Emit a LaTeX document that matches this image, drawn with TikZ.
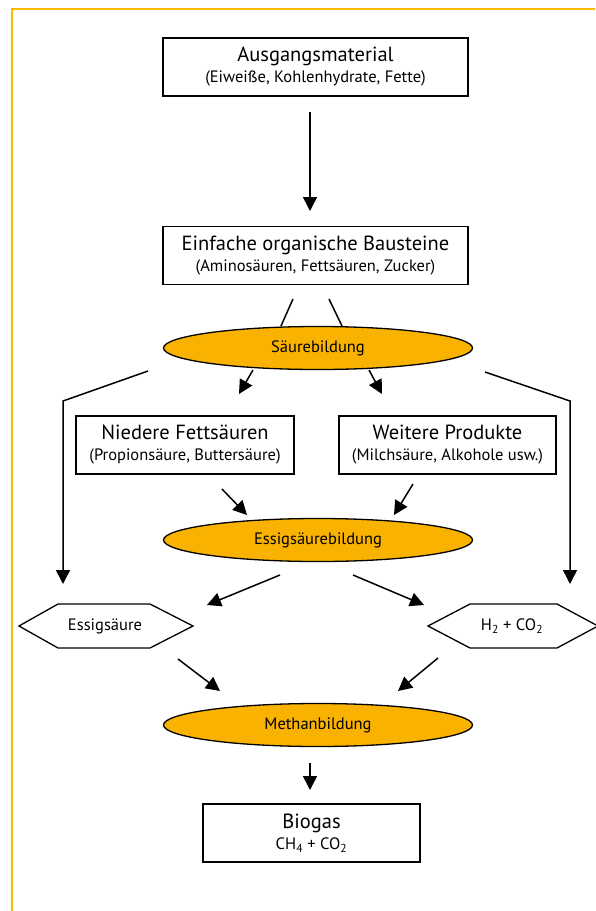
\documentclass[tikz,border=0pt]{standalone}
\usepackage{fontspec}
\setmainfont{PT Sans}
\usetikzlibrary{arrows.meta,shapes.geometric}
\definecolor{amber}{HTML}{F9B200}
\definecolor{framec}{HTML}{FBBA00}
\tikzset{
  box/.style={draw, line width=1.3pt, fill=white, minimum width=#1, minimum height=58pt, inner sep=0pt, align=center, font=\fontsize{20.5}{21}\selectfont},
  stage/.style={ellipse, draw, line width=1.3pt, fill=amber, minimum width=309pt, minimum height=43pt, inner sep=0pt, font=\fontsize{16.5}{18}\selectfont},
  flow/.style={line width=1.5pt, -{Triangle[length=14pt,width=14pt]}},
  plain/.style={line width=1.5pt},
  hexa/.style={line width=1.3pt, fill=white, line join=miter},
  small/.style={font=\fontsize{16.5}{18}\selectfont},
}
\newcommand{\boxtext}[2]{#1\\{\fontsize{16.5}{18}\selectfont #2}}
\begin{document}
\begin{tikzpicture}[x=1pt,y=-1pt]
\useasboundingbox (0,0) rectangle (595,911);
% outer frame, open to the right and bottom
\draw[framec, line width=2pt] (12,911) -- (12,9) -- (595,9);

% boxes and process stages
\node[box=305pt] (start) at (315.5,67) {\boxtext{Ausgangsmaterial}{(Eiweiße, Kohlenhydrate, Fette)}};
\node[box=305pt] (simple) at (315.5,255.5) {\boxtext{Einfache organische Bausteine}{(Aminosäuren, Fettsäuren, Zucker)}};
\node[stage] (acid) at (318,348) {Säurebildung};
\node[box=218pt] (fatty) at (185,445) {\boxtext{Niedere Fettsäuren}{(Propionsäure, Buttersäure)}};
\node[box=217pt] (other) at (447.5,445) {\boxtext{Weitere Produkte}{(Milchsäure, Alkohole usw.)}};
\node[stage] (acet) at (318,540) {Essigsäurebildung};
\node[stage] (meth) at (318,725) {Methanbildung};
\node[box=217pt] (gas) at (311.5,833) {\boxtext{Biogas}{CH\textsubscript{4} + CO\textsubscript{2}}};

% hexagonal intermediate products
\draw[hexa] (19,626) -- (58,604) -- (150,604) -- (193,626) -- (150,648) -- (58,648) -- cycle;
\node[small] (essig) at (105,626) {Essigsäure};
\draw[hexa] (428,626) -- (470,604) -- (557,604) -- (598,626) -- (557,648) -- (470,648) -- cycle;
\node[small] (hco) at (512,626) {H\textsubscript{2} + CO\textsubscript{2}};

% connector end points
\coordinate (a1) at (310,112); \coordinate (a2) at (310,211);
\coordinate (b1) at (293,299); \coordinate (b2) at (281,326);
\coordinate (c1) at (329,299); \coordinate (c2) at (342,326);
\coordinate (d1) at (253,370); \coordinate (d2) at (239,394);
\coordinate (e1) at (369,370); \coordinate (e2) at (382,394);
\coordinate (l1) at (148,371); \coordinate (l2) at (63,401); \coordinate (l3) at (63,584);
\coordinate (r1) at (485,372); \coordinate (r2) at (570,401); \coordinate (r3) at (570,584);
\coordinate (f1) at (222,489); \coordinate (f2) at (247,515);
\coordinate (g1) at (413,484); \coordinate (g2) at (394,515);
\coordinate (h1) at (280,575); \coordinate (h2) at (207,605);
\coordinate (i1) at (353,575); \coordinate (i2) at (424,605);
\coordinate (j1) at (178,659); \coordinate (j2) at (220,691);
\coordinate (k1) at (438,658); \coordinate (k2) at (398,691);
\coordinate (m1) at (310,763); \coordinate (m2) at (310,790);

% connectors
\draw[flow] (a1) -- (a2);
\draw[plain] (b1) -- (b2);
\draw[plain] (c1) -- (c2);
\draw[flow] (d1) -- (d2);
\draw[flow] (e1) -- (e2);
\draw[flow] (l1) -- (l2) -- (l3);
\draw[flow] (r1) -- (r2) -- (r3);
\draw[flow] (f1) -- (f2);
\draw[flow] (g1) -- (g2);
\draw[flow] (h1) -- (h2);
\draw[flow] (i1) -- (i2);
\draw[flow] (j1) -- (j2);
\draw[flow] (k1) -- (k2);
\draw[flow] (m1) -- (m2);
\end{tikzpicture}
\end{document}
